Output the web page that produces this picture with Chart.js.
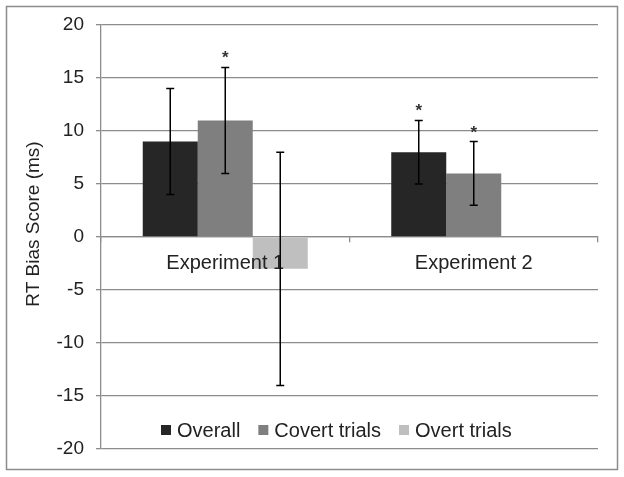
<!DOCTYPE html>
<html>
<head>
<meta charset="utf-8">
<script src="https://cdn.jsdelivr.net/npm/chart.js@4"></script>
<style>
  html, body { margin: 0; padding: 0; background: #fff; }
  #wrap { width: 624px; height: 477px; }
</style>
</head>
<body>
<div id="wrap"><canvas id="chart" width="624" height="477"></canvas></div>
<script>
// data
const categories = ["Experiment 1", "Experiment 2"];
const seriesNames = ["Overall", "Covert trials", "Overt trials"];
const overall = [9, 8];
const covert = [11, 6];
const overt = [-3, null];
const overallErr = [5, 3];
const covertErr = [5, 3];
const overtErr = [11, null];
const overallSig = [false, true];
const covertSig = [true, true];
const overtSig = [false, false];
const yTicks = [-20, -15, -10, -5, 0, 5, 10, 15, 20];
const yTitle = "RT Bias Score (ms)";

const colors = ["#262626", "#7f7f7f", "#bfbfbf"];
const gridColor = "#8c8c8c";
const textColor = "#222";
const fontFamily = "'Liberation Sans', Arial, sans-serif";

// white background + frame round the whole figure
const frame = {
    id: "frame",
    beforeDraw(chart) {
        const ctx = chart.ctx;
        ctx.save();
        ctx.fillStyle = "#fff";
        ctx.fillRect(0, 0, chart.width, chart.height);
        ctx.strokeStyle = "#8c8c8c";
        ctx.lineWidth = 1.5;
        ctx.strokeRect(6.5, 6.5, chart.width - 13, chart.height - 14);
        ctx.restore();
    }
};

// y title sits a bit above the middle of the axis in the original
const axisTitle = {
    id: "axisTitle",
    afterDraw(chart) {
        const ctx = chart.ctx;
        const area = chart.chartArea;
        ctx.save();
        ctx.translate(34, (area.top + area.bottom) / 2 - 13);
        ctx.rotate(-Math.PI / 2);
        ctx.font = "19px " + fontFamily;
        ctx.fillStyle = textColor;
        ctx.textAlign = "center";
        ctx.textBaseline = "middle";
        ctx.fillText(yTitle, 0, 0);
        ctx.restore();
    }
};

// error bars and significance stars (drawn last, over the category labels)
const errorBars = {
    id: "errorBars",
    afterDraw(chart) {
        const ctx = chart.ctx;
        const y = chart.scales.y;
        ctx.save();
        chart.data.datasets.forEach((ds, di) => {
            const meta = chart.getDatasetMeta(di);
            meta.data.forEach((bar, i) => {
                const v = ds.data[i];
                const e = ds.errors[i];
                if (v == null || e == null) return;
                const x = bar.x;
                const top = y.getPixelForValue(v + e);
                const bot = y.getPixelForValue(v - e);
                ctx.strokeStyle = "#000";
                ctx.lineWidth = 1.5;
                ctx.beginPath();
                ctx.moveTo(x, top);
                ctx.lineTo(x, bot);
                ctx.moveTo(x - 4, top);
                ctx.lineTo(x + 4, top);
                ctx.moveTo(x - 4, bot);
                ctx.lineTo(x + 4, bot);
                ctx.stroke();
                if (ds.sig[i]) {
                    ctx.fillStyle = "#333";
                    ctx.font = "bold 17px " + fontFamily;
                    ctx.textAlign = "center";
                    ctx.textBaseline = "alphabetic";
                    ctx.fillText("*", x, top - 14 + 10);
                }
            });
        });
        ctx.restore();
    }
};

// legend sits inside the plot, above the -20 line
const innerLegend = {
    id: "innerLegend",
    afterDraw(chart) {
        const ctx = chart.ctx;
        const area = chart.chartArea;
        let x = area.left + 60;
        const yc = area.bottom - 19;
        ctx.save();
        ctx.font = "20px " + fontFamily;
        ctx.textBaseline = "middle";
        ctx.textAlign = "left";
        chart.data.datasets.forEach(ds => {
            ctx.fillStyle = ds.backgroundColor;
            ctx.fillRect(x, yc - 5, 10, 10);
            x += 16;
            ctx.fillStyle = textColor;
            ctx.fillText(ds.label, x, yc + 1);
            x += ctx.measureText(ds.label).width + 18;
        });
        ctx.restore();
    }
};

const ctx = document.getElementById("chart").getContext("2d");
new Chart(ctx, {
    type: "bar",
    data: {
        labels: categories,
        datasets: [
            { label: seriesNames[0], data: overall, errors: overallErr, sig: overallSig, backgroundColor: colors[0] },
            { label: seriesNames[1], data: covert, errors: covertErr, sig: covertSig, backgroundColor: colors[1] },
            { label: seriesNames[2], data: overt, errors: overtErr, sig: overtSig, backgroundColor: colors[2] }
        ]
    },
    options: {
        responsive: false,
        animation: false,
        layout: { padding: { left: 0, right: 26, top: 25, bottom: 28 } },
        datasets: {
            bar: { categoryPercentage: 0.664, barPercentage: 1 }
        },
        plugins: {
            legend: { display: false },
            tooltip: { enabled: false }
        },
        scales: {
            x: {
                position: { y: 0 },
                grid: { drawOnChartArea: false, offset: true, tickLength: 5, color: gridColor, lineWidth: 1.3 },
                border: { color: gridColor, width: 1.3 },
                // labels over the bars, as in the original
                ticks: { z: 1, color: textColor, font: { family: fontFamily, size: 20 }, padding: 9 }
            },
            y: {
                min: -20,
                max: 20,
                afterBuildTicks(scale) {
                    scale.ticks = yTicks.map(v => ({ value: v }));
                },
                afterFit(scale) {
                    scale.width = 101;
                },
                grid: { color: gridColor, lineWidth: 1.3, tickLength: 5 },
                border: { color: gridColor, width: 1.3 },
                ticks: { color: textColor, font: { family: fontFamily, size: 19 }, padding: 12 }
            }
        }
    },
    plugins: [frame, errorBars, innerLegend, axisTitle]
});
</script>
</body>
</html>
